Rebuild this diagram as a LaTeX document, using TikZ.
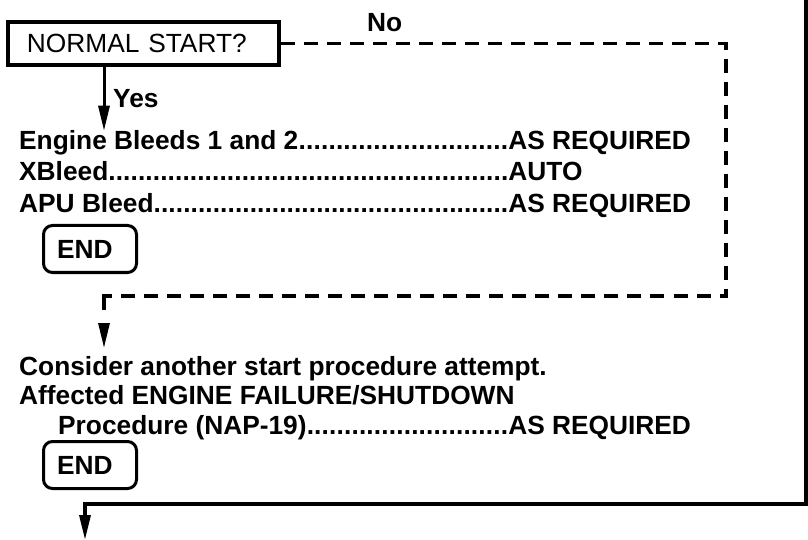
\documentclass[tikz,border=0pt]{standalone}
\usepackage{fontspec}
\setmainfont{Liberation Sans}
\usetikzlibrary{arrows.meta,calc}
\newcommand{\bigtxt}{\fontsize{26.4pt}{30pt}\selectfont}
\newcommand{\dotrow}[3]{\makebox[#1][l]{#2\xleaders\hbox{.}\hfill}#3}
\tikzset{
  txt/.style={inner sep=0pt, anchor=base west, font=\bigtxt\bfseries},
  qbox/.style={draw, line width=4bp, minimum width=271bp, minimum height=43bp, text width=233bp, align=left, inner xsep=19bp, inner ysep=0pt, font=\bigtxt},
  endbox/.style={draw, line width=3bp, rounded corners=9bp, minimum height=47bp, text width=66bp, align=left, inner xsep=13.5bp, inner ysep=0pt, font=\bigtxt\bfseries},
  dashline/.style={line width=3.3bp, dash pattern=on 14bp off 9bp},
  solidline/.style={line width=3.2bp},
  tip/.style={-{Triangle[length=25bp,width=11bp]}}
}
\begin{document}
\begin{tikzpicture}[x=1bp,y=-1bp]
\useasboundingbox (0,0) rectangle (808,540);
\fill[white] (0,0) rectangle (808,540);

% question box
\node[qbox] (ns) at (143.5,43.5) {NORMAL START?};
\node[txt] (no) at (367,32) {No};
\node[txt] (yes) at (113,108) {Yes};

% action lines
\node[txt] (r1) at (19,150) {\dotrow{489bp}{Engine Bleeds 1 and 2}{AS REQUIRED}};
\node[txt] (r2) at (19,181) {\dotrow{489bp}{XBleed}{AUTO}};
\node[txt] (r3) at (19,212.5) {\dotrow{489bp}{APU Bleed}{AS REQUIRED}};
\node[endbox] (end1) at (90,249) {END};

\node[txt] (cons) at (19,375) {Consider another start procedure attempt.};
\node[txt] (aff) at (19,404.5) {Affected ENGINE FAILURE/SHUTDOWN};
\node[txt] (proc) at (58,434) {\dotrow{450bp}{Procedure (NAP-19)}{AS REQUIRED}};
\node[endbox] (end2) at (90,465) {END};

% coordinates for connectors
\coordinate (c1) at (726,43.5);
\coordinate (c2) at (726,296);
\coordinate (c3) at (104,296);
\coordinate (dend) at (104,348);
\coordinate (rt) at (806,0);
\coordinate (rb) at (806,504);
\coordinate (lb) at (85,504);
\coordinate (bend) at (85,540);

% Yes arrow
\draw[line width=3bp, tip] (ns.south -| c3) -- (c3 |- r1.north);
% No dashed path
\draw[dashline] (ns.east) -- (c1) -- (c2) -- (c3);
\draw[line width=3.3bp] (105.65,296) -- (c3) -- (104,310);
\draw[line width=3bp, tip] (104,323) -- (dend);
% right solid path
\draw[solidline, tip] (rt) -- (rb) -- (lb) -- (bend);
\end{tikzpicture}
\end{document}
